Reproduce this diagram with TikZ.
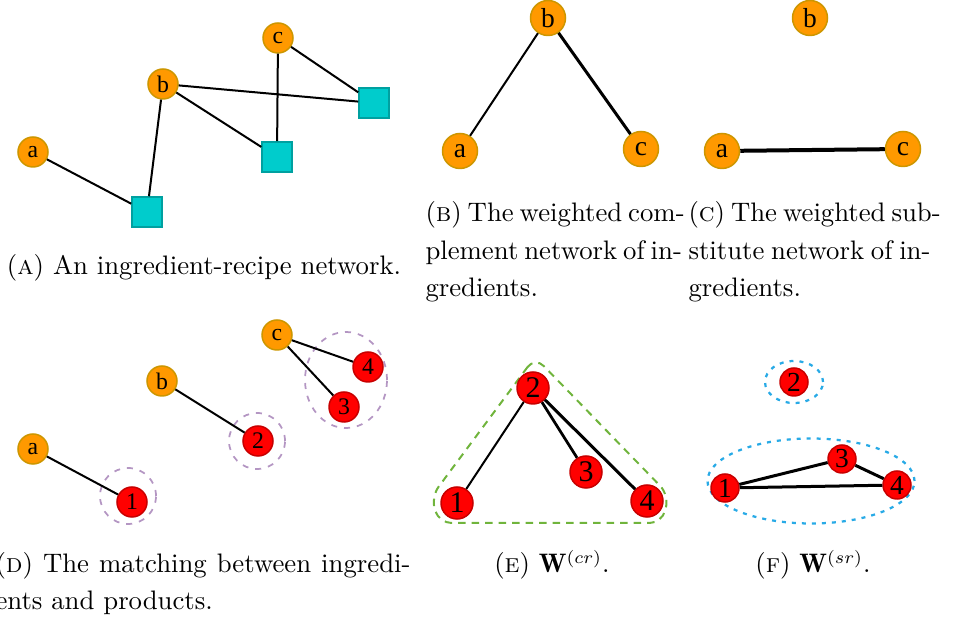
\documentclass[tikz,border=0pt]{standalone}
\usepackage{amsmath}
\usepackage{amssymb}
\usepackage{fontspec}
\usepackage{tikz}
\usetikzlibrary{shapes}
\newfontfamily\labelfont{Liberation Serif}
\definecolor{ingr}{RGB}{255,153,0}
\definecolor{ingrd}{RGB}{205,150,0}
\definecolor{reci}{RGB}{0,204,204}
\definecolor{recid}{RGB}{0,160,160}
\definecolor{prod}{RGB}{255,0,0}
\definecolor{prodd}{RGB}{200,0,0}
\definecolor{grp}{RGB}{180,150,195}
\definecolor{grn}{RGB}{112,180,60}
\definecolor{blu}{RGB}{40,170,230}
\tikzstyle{caption}=[inner sep=0pt,font=\fontsize{10.7}{15}\selectfont]
% one justified caption line of given width
\newcommand{\capline}[2]{\hbox to #1{#2}}

\begin{document}
\begin{tikzpicture}[x=0.4pt,y=-0.4pt]
\useasboundingbox (0,0) rectangle (966,624);

  \tikzset{ingredient/.style={draw=ingrd, circle, fill=ingr, line width=0.6pt, inner sep=0pt, minimum size=12pt, font=\labelfont\fontsize{9.5}{9.5}\selectfont},
           recipe/.style={draw=recid, rectangle, fill=reci, line width=0.6pt, inner sep=0pt, minimum size=12pt},
           product/.style={draw=prodd, circle, fill=prod, line width=0.6pt, inner sep=0pt, minimum size=12pt, font=\labelfont\fontsize{9.5}{9.5}\selectfont},
           match/.style={grp, line width=0.7pt, dash pattern=on 2.4pt off 2.8pt},
           group/.style={blu, line width=0.9pt, dash pattern=on 1.6pt off 2.4pt}}

% (a) ingredient-recipe network
\node[ingredient] (Aa) at (33,152) {a};
\node[ingredient] (Ab) at (163,84) {b};
\node[ingredient] (Ac) at (278,38) {c};
\node[recipe] (Ar1) at (147,212) {};
\node[recipe] (Ar2) at (277,157) {};
\node[recipe] (Ar3) at (374,103) {};

\draw[line width=0.8pt] (Aa) -- (Ar1) -- (Ab) -- (Ar2) -- (Ac) -- (Ar3) -- (Ab);

\node[caption, anchor=base] (capA) at (204,275) {(\textsc{a})~An ingredient-recipe network.};

% (b) complement network
\node[ingredient, minimum size=14pt, font=\labelfont\fontsize{11}{11}\selectfont] (Bb) at (548,18) {b};
\node[ingredient, minimum size=14pt, font=\labelfont\fontsize{11}{11}\selectfont] (Ba) at (460,151) {a};
\node[ingredient, minimum size=14pt, font=\labelfont\fontsize{11}{11}\selectfont] (Bc) at (641,149) {c};

\draw[line width=0.8pt] (Bb) -- (Ba);
\draw[line width=1.2pt] (Bb) -- (Bc);

% base = last line
\node[caption, anchor=base west, align=left] (capB) at (425,297)
  {\capline{100.8pt}{(\textsc{b})~The weighted com-}\\
   \capline{100.8pt}{plement network of in-}\\
   gredients.};

% (c) substitute network
\node[ingredient, minimum size=14pt, font=\labelfont\fontsize{11}{11}\selectfont] (Cb) at (810,18) {b};
\node[ingredient, minimum size=14pt, font=\labelfont\fontsize{11}{11}\selectfont] (Ca) at (722,151) {a};
\node[ingredient, minimum size=14pt, font=\labelfont\fontsize{11}{11}\selectfont] (Cc) at (903,149) {c};

\draw[line width=1.6pt] (Ca) -- (Cc);

\node[caption, anchor=base west, align=left] (capC) at (688,297)
  {\capline{96.8pt}{(\textsc{c})~The weighted sub-}\\
   \capline{96.8pt}{stitute network of in-}\\
   gredients.};

% (d) matching
\draw[match] (128,496) circle [radius=11.2pt];
\draw[match] (257,441) circle [radius=11.2pt];
\draw[match] (346,380) ellipse [x radius=16.4pt, y radius=19.2pt];

\node[ingredient] (Da) at (33,449) {a};
\node[ingredient] (Db) at (162,381) {b};
\node[ingredient] (Dc) at (277,335) {c};
\node[product] (D1) at (132,502) {1};
\node[product] (D2) at (258,441) {2};
\node[product] (D3) at (344,407) {3};
\node[product] (D4) at (368,367) {4};

\draw[line width=0.8pt] (Da) -- (D1);
\draw[line width=0.8pt] (Db) -- (D2);
\draw[line width=0.8pt] (Dc) -- (D3);
\draw[line width=0.8pt] (Dc) -- (D4);

\node[caption, anchor=base west, align=left] (capD) at (-5,610)
  {\capline{166pt}{(\textsc{d})~The matching between ingredi-}\\
   ents and products.};

% (e) W^(cr)
\draw[grn, line width=0.8pt, dash pattern=on 3pt off 2.4pt, rounded corners=5pt]
  (535,357) -- (431,497) -- (439,523) -- (662,523) -- (669,495) -- cycle;

\node[product, minimum size=12.8pt, font=\labelfont\fontsize{12}{12}\selectfont] (E2) at (533,388) {2};
\node[product, minimum size=12.8pt, font=\labelfont\fontsize{12}{12}\selectfont] (E1) at (457,503) {1};
\node[product, minimum size=12.8pt, font=\labelfont\fontsize{12}{12}\selectfont] (E3) at (586,472) {3};
\node[product, minimum size=12.8pt, font=\labelfont\fontsize{12}{12}\selectfont] (E4) at (647,501) {4};

\draw[line width=0.8pt] (E2) -- (E1);
\draw[line width=1.1pt] (E2) -- (E3);
\draw[line width=1.2pt] (E2) -- (E4);

\node[caption, anchor=base] (capE) at (552,573) {(\textsc{e})~$\mathbf{W}^{(cr)}$.};

% (f) W^(sr)
\draw[group] (794,382) ellipse [x radius=11.6pt, y radius=8.4pt];
\draw[group] (811,481) ellipse [x radius=41.4pt, y radius=17pt];

\node[product, minimum size=11.2pt, font=\labelfont\fontsize{11}{11}\selectfont] (F2) at (794,382) {2};
\node[product, minimum size=11.2pt, font=\labelfont\fontsize{11}{11}\selectfont] (F1) at (725,488) {1};
\node[product, minimum size=11.2pt, font=\labelfont\fontsize{11}{11}\selectfont] (F3) at (842,459) {3};
\node[product, minimum size=11.2pt, font=\labelfont\fontsize{11}{11}\selectfont] (F4) at (897,485) {4};

\draw[line width=1.2pt] (F1) -- (F3) -- (F4) -- (F1);

\node[caption, anchor=base] (capF) at (813,573) {(\textsc{f})~$\mathbf{W}^{(sr)}$.};

\end{tikzpicture}
\end{document}
